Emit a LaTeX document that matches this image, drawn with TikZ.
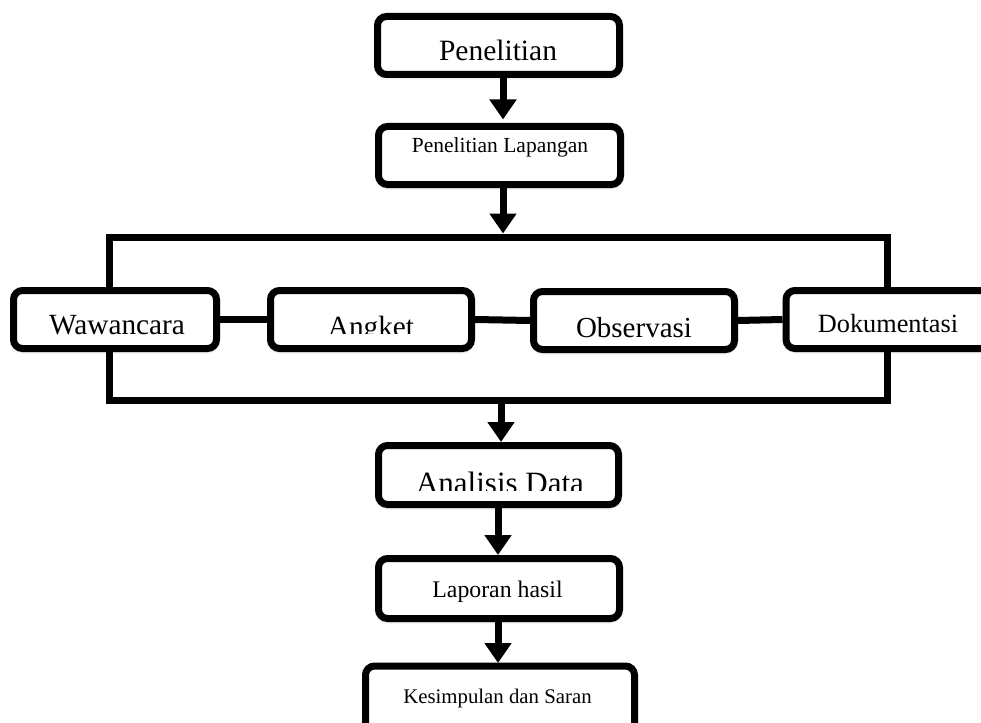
\documentclass[tikz,border=0pt]{standalone}
\usepackage{fontspec}
\setmainfont{Liberation Serif}
\usetikzlibrary{arrows.meta,shadows.blur}
\tikzset{
  boxn/.style={draw=black, line width=7pt, rounded corners=9pt, fill=white, inner sep=0pt,
    blur shadow={shadow xshift=0pt, shadow yshift=-1.5pt, shadow blur radius=4pt, shadow opacity=45, shadow blur steps=6}},
  txt/.style={anchor=base, inner sep=0pt},
  arr/.style={line width=7pt, -{Triangle[width=26pt,length=20pt]}},
  conn/.style={line width=7pt},
}
\newcommand{\fs}[1]{\fontsize{#1}{#1}\selectfont}
\begin{document}
\begin{tikzpicture}[x=1pt,y=-1pt]
\useasboundingbox (0,0) rectangle (981,722);
% big frame
\coordinate (rtl) at (109,237);
\coordinate (rbr) at (887,400);
\coordinate (rtop) at (503,233.5);
\coordinate (rbot) at (501,400);
\draw[line width=7pt] (rtl) rectangle (rbr);
% boxes
\node[boxn, minimum width=242pt, minimum height=58pt] (pen) at (498.5,45.5) {};
\node[boxn, minimum width=242pt, minimum height=58pt] (lap) at (499.5,155.5) {};
\node[boxn, minimum width=203pt, minimum height=58pt] (waw) at (115,319.5) {};
\node[boxn, minimum width=201pt, minimum height=58pt] (ang) at (371,319.5) {};
\node[boxn, minimum width=201pt, minimum height=58pt] (obs) at (634,320.5) {};
\node[boxn, minimum width=224pt, minimum height=58pt] (dok) at (898,319.5) {};
\node[boxn, minimum width=240pt, minimum height=59pt] (ana) at (498.5,475) {};
\node[boxn, minimum width=241pt, minimum height=60pt] (lapo) at (499,588.5) {};
\node[boxn, minimum width=269pt, minimum height=94pt] (kes) at (500,713) {};
% texts
\node[txt, font=\fs{29.5}] (pen-t) at (498,61) {Penelitian};
\node[txt, font=\fs{21.5}] (lap-t) at (500,152.5) {Penelitian Lapangan};
\node[txt, font=\fs{29.3}] (waw-t) at (117,334) {Wawancara};
\begin{scope}
  \clip (ang.north west) rectangle (ang.east |- 0,333);
  \node[txt, font=\fs{29.3}] (ang-t) at (371,336) {Angket};
\end{scope}
\node[txt, font=\fs{29}] (obs-t) at (634,337) {Observasi};
\node[txt, font=\fs{26.3}] (dok-t) at (888,332) {Dokumentasi};
\begin{scope}
  \clip (ana.north west) rectangle (ana.east |- 0,490);
  \node[txt, font=\fs{31}] (ana-t) at (500,493) {Analisis Data};
\end{scope}
\node[txt, font=\fs{23.8}] (lapo-t) at (497.5,597.5) {Laporan hasil};
\node[txt, font=\fs{20.8}] (kes-t) at (497.5,703.5) {Kesimpulan dan Saran};
% connectors
\draw[conn] (waw.east) -- (ang.west);
\draw[conn] (ang.east) -- (obs.west);
\draw[conn] (obs.east) -- (dok.west);
% arrows
\draw[arr] ([xshift=4.5pt]pen.south) -- ([xshift=4.5pt,yshift=3.5pt]pen.south |- lap.north);
\draw[arr] ([xshift=3.5pt]lap.south) -- (rtop);
\draw[arr] (rbot) -- (rbot |- 0,442);
\draw[arr] ([xshift=-0.5pt]ana.south) -- ([xshift=-0.5pt]ana.south |- 0,555);
\draw[arr] ([xshift=-1pt]lapo.south) -- ([xshift=-1pt]lapo.south |- 0,663);
\end{tikzpicture}
\end{document}
